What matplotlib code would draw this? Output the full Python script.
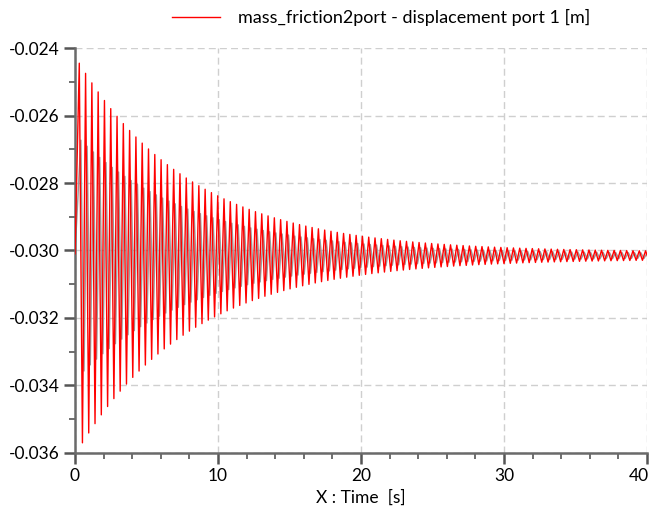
import numpy as np
import matplotlib.pyplot as plt
import matplotlib.transforms as mtransforms

# peak readings, one per oscillation cycle (micrometres)
t_first = 0.3      # time of first upper peak [s]
period = 0.44      # oscillation period [s]
y_start = -30100   # value at t = 0

red_top = [-24450, -24750, -25033, -25301, -25555, -25796, -26023, -26239, -26443, -26636,
           -26818, -26991, -27155, -27310, -27456, -27595, -27726, -27851, -27968, -28080,
           -28185, -28285, -28379, -28469, -28553, -28633, -28709, -28781, -28849, -28913,
           -28974, -29031, -29086, -29137, -29186, -29232, -29276, -29318, -29357, -29394,
           -29429, -29462, -29494, -29523, -29552, -29578, -29604, -29627, -29650, -29671,
           -29692, -29711, -29729, -29746, -29762, -29778, -29792, -29806, -29819, -29832,
           -29843, -29854, -29865, -29875, -29884, -29893, -29901, -29909, -29917, -29924,
           -29931, -29937, -29943, -29949, -29954, -29959, -29964, -29969, -29973, -29977,
           -29981, -29985, -29988, -29992, -29995, -29998, -30000, -30003, -30006, -30008,
           -30010]
red_bot = [-35699, -35407, -35131, -34870, -34623, -34389, -34168, -33958, -33760, -33572,
           -33394, -33226, -33067, -32916, -32774, -32639, -32511, -32390, -32275, -32167,
           -32064, -31967, -31876, -31788, -31706, -31628, -31555, -31485, -31419, -31356,
           -31297, -31241, -31188, -31138, -31091, -31046, -31003, -30962, -30924, -30888,
           -30854, -30822, -30791, -30763, -30735, -30709, -30684, -30662, -30639, -30619,
           -30598, -30580, -30562, -30546, -30530, -30515, -30501, -30487, -30475, -30462,
           -30451, -30441, -30430, -30420, -30412, -30403, -30395, -30387, -30380, -30373,
           -30366, -30360, -30354, -30348, -30343, -30338, -30334, -30329, -30325, -30321,
           -30317, -30313, -30310, -30307, -30304, -30301, -30299, -30296, -30293, -30291,
           -30289]

# grey trace behind the red one, around its centre
gray_center = -30150
gray_amp = [3420, 3240, 3070, 2909, 2756, 2612, 2476, 2347, 2224, 2108,
            1999, 1895, 1797, 1704, 1616, 1533, 1454, 1379, 1309, 1242,
            1179, 1119, 1063, 1009, 958, 910, 865, 821, 781, 742,
            706, 671, 638, 608, 578, 551, 524, 499, 476, 454,
            433, 413, 394, 376, 359, 343, 328, 314, 300, 287,
            275, 263, 253, 242, 233, 223, 215, 206, 199, 191,
            184, 178, 171, 165, 160, 154, 149, 145, 140, 136,
            131, 128, 124, 121, 118, 115, 112, 109, 106, 104,
            101, 99, 97, 95, 93, 91, 90, 88, 86, 85,
            84]

n = len(red_top)
tk = t_first + period * np.arange(n)

# interleave peaks and troughs
t_red = np.concatenate([[0.0], np.ravel(np.column_stack([tk, tk + period / 2]))])
y_red = np.concatenate([[y_start], np.ravel(np.column_stack([red_top, red_bot]))]) * 1e-6

ga = np.array(gray_amp)
tg = tk + period / 4
t_gray = np.concatenate([[0.0], np.ravel(np.column_stack([tg, tg + period / 2]))])
y_gray = np.concatenate([[y_start], np.ravel(np.column_stack([gray_center + ga, gray_center - ga]))]) * 1e-6

plt.rcParams['font.family'] = ['Lato', 'DejaVu Sans']

fig = plt.figure(figsize=(6.55, 5.13), dpi=100)
ax = fig.add_axes([0.1145, 0.117, 0.8733, 0.7894])

ax.plot(t_gray, y_gray, color='#9a9a9a', lw=1.0, zorder=2)
line, = ax.plot(t_red, y_red, color='#ff0000', lw=1.0, zorder=3,
                label='mass_friction2port - displacement port 1 [m]')

ax.set_xlim(0, 40)
ax.set_ylim(-0.036, -0.024)
ax.set_xticks([0, 10, 20, 30, 40])
ax.set_xticks(np.arange(0, 41, 2), minor=True)
ax.set_yticks(np.arange(-0.036, -0.0239, 0.002))
ax.set_yticks(np.arange(-0.036, -0.0239, 0.001), minor=True)
ax.set_yticklabels(['%.3f' % v for v in np.arange(-0.036, -0.0239, 0.002)])

ax.grid(True, which='major', color='#cfcfcf', linestyle=(0, (5, 3)), lw=1.0, zorder=0)
for s in ['top', 'right']:
    ax.spines[s].set_visible(False)
for s in ['left', 'bottom']:
    ax.spines[s].set_color('#6a6a6a')
    ax.spines[s].set_linewidth(1.8)
ax.tick_params(which='major', length=8, width=1.8, color='#555555', labelsize=12.5, pad=3)
ax.tick_params(which='minor', length=4, width=1.2, color='#555555')

# last x label sits a little left so it stays inside the image
last = ax.get_xticklabels()[-1]
last.set_transform(last.get_transform() + mtransforms.ScaledTranslation(-0.08, 0, fig.dpi_scale_trans))

ax.set_xlabel('X : Time  [s]', fontsize=12.5, labelpad=4)

fig.legend(handles=[line], loc='center', bbox_to_anchor=(0.582, 0.965), frameon=False,
           fontsize=13, handlelength=2.7, handletextpad=1.0)

fig.savefig('out.png', dpi=100)
